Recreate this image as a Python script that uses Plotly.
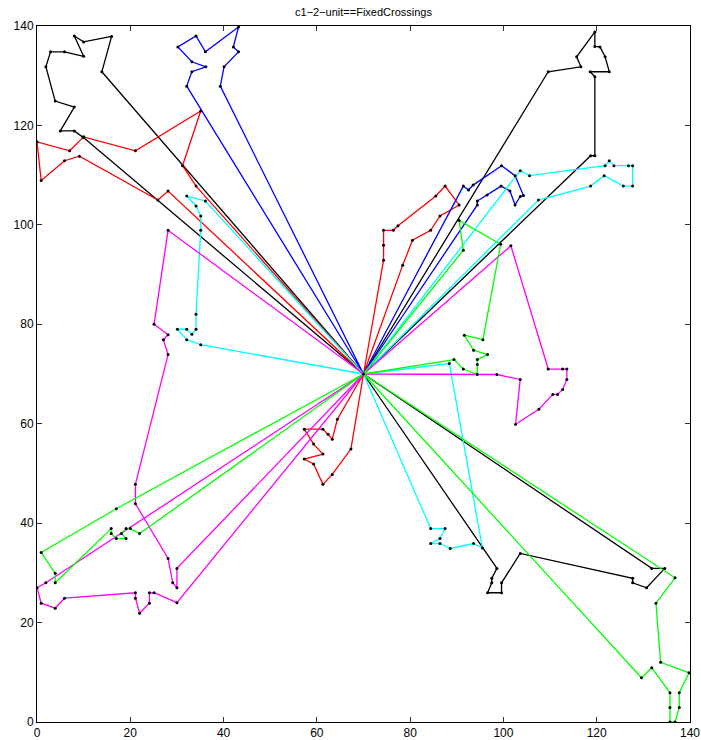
import plotly.graph_objects as go

# Depot
depot_x, depot_y = 70, 70

# Routes (customer sequences; each route starts and ends at the depot)
black1_x = [13.9, 16.0, 10.0, 8.0, 10.0, 5.9, 2.9, 1.9, 3.9, 8.0, 5.0, 8.0, 9.9]
black1_y = [130.8, 137.9, 136.8, 138.0, 133.9, 134.8, 134.8, 131.8, 124.9, 123.7, 118.9, 118.9, 117.6]
black2_x = [109.6, 116.6, 115.7, 119.6, 119.6, 120.7, 121.8, 122.7, 118.6, 119.6, 119.6, 118.7]
black2_y = [130.8, 131.8, 133.8, 138.8, 135.9, 135.8, 133.8, 130.8, 130.8, 129.8, 113.9, 113.9]
black3_x = [98.6, 97.5, 97.5, 96.6, 99.6, 99.6, 103.6, 127.7, 127.7, 130.7, 134.6, 131.8]
black3_y = [30.9, 28.9, 28.0, 26.0, 26.0, 28.0, 33.9, 28.9, 28.0, 27.0, 30.9, 30.9]

red1_x = [28.1, 25.9, 9.1, 5.9, 0.9, 0.0, 7.0, 10.0, 21.1, 35.1, 31.2, 34.1]
red1_y = [106.8, 105.0, 113.8, 112.9, 108.9, 116.7, 114.9, 117.7, 114.9, 122.9, 111.9, 107.8]
red2_x = [74.3, 74.3, 74.3, 76.4, 77.4, 85.5, 87.5, 90.5, 86.4, 84.4, 80.5, 78.4]
red2_y = [92.9, 95.9, 98.9, 98.9, 99.8, 105.8, 107.8, 104.0, 101.8, 98.9, 96.9, 91.9]
red3_x = [64.4, 63.3, 62.4, 61.3, 57.3, 59.3, 61.3, 57.3, 59.3, 61.3, 63.3, 67.3]
red3_y = [60.9, 56.9, 57.9, 58.9, 58.9, 55.9, 53.9, 52.9, 51.9, 47.8, 49.8, 54.9]

blue1_x = [39.3, 40.1, 43.2, 42.1, 43.2, 36.1, 34.1, 30.2, 33.2, 36.2, 33.2, 32.1]
blue1_y = [127.9, 131.8, 134.8, 135.8, 139.8, 134.8, 138.0, 135.8, 132.8, 131.8, 130.8, 127.9]
blue2_x = [91.4, 92.5, 93.5, 99.6, 102.5, 104.3, 103.6, 102.5, 101.4, 99.5, 96.5, 94.4, 94.4]
blue2_y = [107.8, 107.0, 108.0, 111.9, 109.9, 105.9, 105.7, 104.0, 106.8, 107.8, 106.0, 104.8, 104.0]

cyan1_x = [36.1, 32.1, 34.1, 35.1, 35.1, 34.1, 34.1, 33.2, 32.1, 30.1, 32.1, 35.1]
cyan1_y = [104.8, 105.8, 103.8, 101.8, 98.9, 82.0, 79.0, 78.0, 79.0, 79.0, 76.9, 75.9]
cyan2_x = [103.6, 105.6, 121.8, 122.7, 123.7, 126.8, 127.7, 127.7, 125.7, 121.6, 118.7, 107.5]
cyan2_y = [110.9, 109.9, 111.9, 112.9, 111.9, 111.9, 111.9, 107.8, 107.8, 109.9, 107.8, 105.0]
cyan3_x = [88.4, 95.5, 93.6, 88.6, 86.4, 84.4, 86.4, 87.5, 84.4]
cyan3_y = [72.1, 35.0, 35.9, 34.9, 35.9, 35.9, 36.9, 38.9, 38.9]

magenta1_x = [28.1, 25.1, 28.1, 27.1, 28.1, 21.1, 21.1, 28.1, 29.1, 30.0, 30.0]
magenta1_y = [98.9, 80.0, 77.9, 76.9, 73.9, 47.8, 43.9, 32.9, 28.0, 27.0, 30.9]
magenta2_x = [30.0, 25.1, 24.1, 24.1, 22.0, 21.1, 21.1, 5.9, 3.9, 0.9, 0.0, 1.9]
magenta2_y = [24.0, 26.0, 26.0, 23.9, 21.9, 24.9, 26.0, 24.9, 22.9, 23.9, 27.0, 28.0]
magenta3_x = [98.6, 103.6, 102.6, 107.6, 110.6, 111.6, 112.7, 113.6, 113.6, 112.7, 109.6, 101.6]
magenta3_y = [69.9, 68.9, 59.9, 62.9, 65.9, 65.9, 66.9, 68.9, 71.0, 71.0, 71.0, 95.8]

green1_x = [91.4, 90.5, 99.4, 95.6, 91.6, 93.6, 96.6, 94.4, 94.4, 94.4, 91.4, 89.4]
green1_y = [94.9, 100.9, 96.1, 76.9, 77.8, 74.8, 73.9, 72.9, 71.9, 69.9, 71.0, 72.9]
green2_x = [17.0, 0.9, 3.9, 3.9, 15.9, 15.9, 17.0, 19.1, 18.1, 19.1, 20.0, 22.0]
green2_y = [42.9, 34.1, 29.9, 28.0, 38.9, 37.9, 36.9, 36.9, 37.9, 38.9, 38.9, 37.9]
green3_x = [136.8, 132.7, 133.7, 139.8, 137.7, 137.7, 136.8, 135.7, 135.7, 135.7, 131.8, 129.6]
green3_y = [29.0, 23.9, 12.0, 9.9, 5.9, 2.9, 0.0, 0.0, 2.9, 5.9, 10.9, 8.9]

tick_vals = [0, 20, 40, 60, 80, 100, 120, 140]
title_text = "c1\u22122\u2212unit==FixedCrossings"

routes = [
    (black1_x, black1_y, "#000000"), (black2_x, black2_y, "#000000"), (black3_x, black3_y, "#000000"),
    (red1_x, red1_y, "#ff0000"), (red2_x, red2_y, "#ff0000"), (red3_x, red3_y, "#ff0000"),
    (blue1_x, blue1_y, "#0000ff"), (blue2_x, blue2_y, "#0000ff"),
    (cyan1_x, cyan1_y, "#00ffff"), (cyan2_x, cyan2_y, "#00ffff"), (cyan3_x, cyan3_y, "#00ffff"),
    (magenta1_x, magenta1_y, "#ff00ff"), (magenta2_x, magenta2_y, "#ff00ff"), (magenta3_x, magenta3_y, "#ff00ff"),
    (green1_x, green1_y, "#00ff00"), (green2_x, green2_y, "#00ff00"), (green3_x, green3_y, "#00ff00"),
]

fig = go.Figure()
all_x, all_y = [depot_x], [depot_y]
for rx, ry, col in routes:
    xs = [depot_x] + list(rx) + [depot_x]
    ys = [depot_y] + list(ry) + [depot_y]
    fig.add_trace(go.Scatter(x=xs, y=ys, mode="lines",
                             line=dict(color=col, width=1.3), hoverinfo="skip"))
    all_x += list(rx)
    all_y += list(ry)

fig.add_trace(go.Scatter(x=all_x, y=all_y, mode="markers",
                         marker=dict(color="black", size=3), hoverinfo="skip"))

axis_common = dict(range=[0, 140], tickvals=tick_vals, ticks="inside", ticklen=5,
                   tickcolor="#333333", showline=True, linecolor="black", linewidth=1,
                   mirror="ticks", showgrid=False, zeroline=False, automargin=False,
                   tickfont=dict(family="Liberation Sans, Arial, sans-serif", size=12, color="black"))

fig.update_layout(
    width=701, height=740,
    margin=dict(l=37, r=11, t=26, b=18, autoexpand=False),
    paper_bgcolor="white", plot_bgcolor="white",
    showlegend=False,
    title=dict(text=title_text, x=(37 + 690) / 2 / 701, xanchor="center",
               y=1 - 12 / 740, yanchor="middle", yref="container", automargin=False,
               font=dict(family="Liberation Sans, Arial, sans-serif", size=11, color="black")),
    xaxis=axis_common,
    yaxis=axis_common,
)

fig.write_html("out.html", config={"displayModeBar": False},
               post_script="document.body.style.margin='0px';document.body.style.overflow='hidden';")
